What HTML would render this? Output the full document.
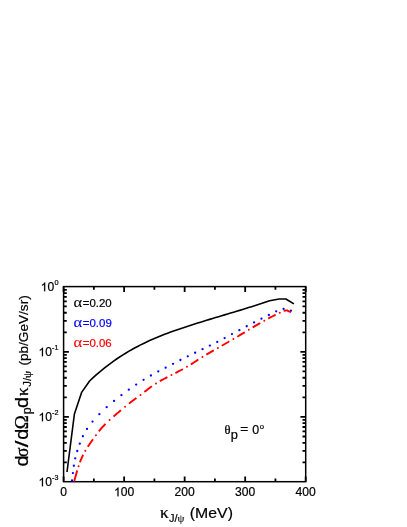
<!DOCTYPE html>
<html><head><meta charset="utf-8"><style>
html,body{margin:0;padding:0;background:#fff;}
svg{display:block;will-change:transform;font-family:"Liberation Sans",sans-serif;font-size:100px;}
</style></head><body>
<svg width="407" height="527" viewBox="0 0 407 527">
<rect width="407" height="527" fill="#fff"/>
<rect x="63.6" y="286.6" width="242.10" height="195.10" fill="none" stroke="#000" stroke-width="1.5"/>
<path d="M63.60 481.7 v-5.3 M63.60 286.6 v5.3 M93.86 481.7 v-3.2 M93.86 286.6 v3.2 M124.12 481.7 v-5.3 M124.12 286.6 v5.3 M154.39 481.7 v-3.2 M154.39 286.6 v3.2 M184.65 481.7 v-5.3 M184.65 286.6 v5.3 M214.91 481.7 v-3.2 M214.91 286.6 v3.2 M245.17 481.7 v-5.3 M245.17 286.6 v5.3 M275.44 481.7 v-3.2 M275.44 286.6 v3.2 M305.70 481.7 v-5.3 M305.70 286.6 v5.3 M63.6 462.37 h3.2 M305.7 462.37 h-3.2 M63.6 450.92 h3.2 M305.7 450.92 h-3.2 M63.6 442.80 h3.2 M305.7 442.80 h-3.2 M63.6 436.49 h3.2 M305.7 436.49 h-3.2 M63.6 431.34 h3.2 M305.7 431.34 h-3.2 M63.6 426.99 h3.2 M305.7 426.99 h-3.2 M63.6 423.22 h3.2 M305.7 423.22 h-3.2 M63.6 419.89 h3.2 M305.7 419.89 h-3.2 M63.6 416.92 h5.3 M305.7 416.92 h-5.3 M63.6 397.34 h3.2 M305.7 397.34 h-3.2 M63.6 385.89 h3.2 M305.7 385.89 h-3.2 M63.6 377.76 h3.2 M305.7 377.76 h-3.2 M63.6 371.46 h3.2 M305.7 371.46 h-3.2 M63.6 366.31 h3.2 M305.7 366.31 h-3.2 M63.6 361.96 h3.2 M305.7 361.96 h-3.2 M63.6 358.19 h3.2 M305.7 358.19 h-3.2 M63.6 354.86 h3.2 M305.7 354.86 h-3.2 M63.6 351.88 h5.3 M305.7 351.88 h-5.3 M63.6 332.31 h3.2 M305.7 332.31 h-3.2 M63.6 320.85 h3.2 M305.7 320.85 h-3.2 M63.6 312.73 h3.2 M305.7 312.73 h-3.2 M63.6 306.43 h3.2 M305.7 306.43 h-3.2 M63.6 301.28 h3.2 M305.7 301.28 h-3.2 M63.6 296.92 h3.2 M305.7 296.92 h-3.2 M63.6 293.15 h3.2 M305.7 293.15 h-3.2 M63.6 289.83 h3.2 M305.7 289.83 h-3.2" stroke="#000" stroke-width="1.8" fill="none"/>
<path d="M67.00 472.00 L74.40 414.00 L81.60 392.40 L89.60 381.00 L92.60 378.18 L95.60 375.46 L98.60 372.84 L101.60 370.32 L104.60 367.88 L107.60 365.54 L110.60 363.29 L113.60 361.12 L116.60 359.03 L119.60 357.01 L122.60 355.08 L125.60 353.22 L128.60 351.42 L131.60 349.70 L134.60 348.04 L137.60 346.44 L140.60 344.90 L143.60 343.41 L146.60 341.98 L149.60 340.60 L152.60 339.27 L155.60 337.98 L158.60 336.73 L161.60 335.52 L164.60 334.35 L167.60 333.21 L170.60 332.11 L173.60 331.03 L176.60 329.97 L179.60 328.94 L182.60 327.92 L185.60 326.93 L188.60 325.95 L191.60 324.98 L194.60 324.02 L197.60 323.07 L200.60 322.14 L203.60 321.21 L206.60 320.29 L209.60 319.38 L212.60 318.47 L215.60 317.57 L218.60 316.67 L221.60 315.77 L224.60 314.88 L227.60 313.98 L230.60 313.08 L233.60 312.18 L236.60 311.28 L239.60 310.37 L242.60 309.46 L245.60 308.54 L248.60 307.61 L251.60 306.68 L254.60 305.73 L257.60 304.78 L260.60 303.81 L263.60 302.82 L266.60 301.83 L269.60 300.81 L279.20 299.00 L285.90 299.00 L293.90 303.90" stroke="#000" stroke-width="1.6" fill="none" stroke-linejoin="round"/>
<g fill="#0000ff"><circle cx="71.99" cy="480.45" r="1.15"/><circle cx="72.91" cy="473.10" r="1.15"/><circle cx="73.86" cy="465.75" r="1.15"/><circle cx="75.21" cy="458.35" r="1.15"/><circle cx="77.27" cy="450.98" r="1.15"/><circle cx="79.77" cy="443.63" r="1.15"/><circle cx="82.87" cy="436.26" r="1.15"/><circle cx="87.00" cy="428.91" r="1.15"/><circle cx="92.50" cy="421.53" r="1.15"/><circle cx="99.34" cy="414.16" r="1.15"/><circle cx="106.68" cy="407.20" r="1.15"/><circle cx="114.07" cy="400.92" r="1.15"/><circle cx="121.45" cy="395.13" r="1.15"/><circle cx="128.80" cy="389.65" r="1.15"/><circle cx="136.17" cy="384.56" r="1.15"/><circle cx="143.53" cy="379.85" r="1.15"/><circle cx="150.91" cy="375.48" r="1.15"/><circle cx="158.27" cy="371.46" r="1.15"/><circle cx="165.64" cy="367.66" r="1.15"/><circle cx="173.04" cy="363.86" r="1.15"/><circle cx="180.41" cy="360.02" r="1.15"/><circle cx="187.76" cy="356.34" r="1.15"/><circle cx="195.14" cy="352.75" r="1.15"/><circle cx="202.53" cy="349.15" r="1.15"/><circle cx="209.86" cy="345.57" r="1.15"/><circle cx="217.26" cy="341.90" r="1.15"/><circle cx="224.63" cy="338.07" r="1.15"/><circle cx="231.98" cy="334.12" r="1.15"/><circle cx="239.38" cy="330.15" r="1.15"/><circle cx="246.72" cy="326.27" r="1.15"/><circle cx="254.10" cy="322.42" r="1.15"/><circle cx="261.46" cy="318.67" r="1.15"/><circle cx="268.85" cy="315.00" r="1.15"/><circle cx="276.19" cy="311.37" r="1.15"/><circle cx="283.60" cy="308.92" r="1.15"/><circle cx="290.95" cy="310.71" r="1.15"/></g>
<path d="M74.10 481.50 L74.24 481.02 L74.37 480.53 L74.51 480.05 L74.65 479.57 L74.78 479.09 L74.92 478.60 L75.06 478.12 L75.19 477.64 L75.33 477.15 L75.47 476.67 L75.60 476.19 L75.74 475.71 L75.88 475.22 L76.01 474.74 L76.15 474.26 L76.29 473.77 L76.43 473.29 L76.57 472.81 L76.71 472.33 L76.85 471.85 L76.99 471.37 L77.14 470.89 L77.27 470.46 M79.93 462.30 L80.10 461.82 L80.26 461.35 L80.45 460.88 L80.65 460.42 L80.85 459.96 L81.05 459.50 L81.24 459.04 L81.44 458.58 L81.64 458.12 L81.84 457.65 L82.04 457.19 L82.24 456.73 L82.43 456.27 L82.64 455.81 L82.87 455.37 L83.10 454.93 L83.17 454.79 M87.78 446.82 L88.04 446.39 L88.31 445.97 L88.59 445.55 L88.88 445.14 L89.16 444.72 L89.45 444.31 L89.74 443.90 L90.02 443.48 L90.31 443.07 L90.60 442.66 L90.89 442.25 L91.17 441.83 L91.46 441.42 L91.75 441.01 L92.04 440.59 L92.33 440.19 L92.63 439.78 L92.93 439.37 L92.99 439.29 M98.88 431.35 L99.19 430.96 L99.51 430.57 L99.82 430.18 L100.14 429.79 L100.45 429.41 L100.77 429.02 L101.08 428.63 L101.40 428.24 L101.74 427.87 L102.08 427.50 L102.42 427.14 L102.76 426.77 L103.11 426.40 L103.45 426.04 L103.79 425.67 L104.13 425.31 L104.48 424.94 L104.82 424.57 L105.16 424.21 L105.51 423.85 M113.48 416.55 L113.86 416.22 L114.24 415.88 L114.61 415.55 L114.99 415.22 L115.38 414.90 L115.76 414.57 L116.14 414.25 L116.53 413.92 L116.91 413.60 L117.29 413.27 L117.68 412.95 L118.06 412.62 L118.45 412.30 L118.83 411.97 L119.21 411.65 L119.60 411.32 L119.98 411.00 L120.36 410.67 L120.75 410.35 L120.98 410.16 M128.94 403.61 L129.33 403.29 L129.73 402.98 L130.12 402.66 L130.52 402.36 L130.92 402.05 L131.32 401.75 L131.73 401.45 L132.13 401.15 L132.53 400.85 L132.93 400.54 L133.34 400.24 L133.74 399.94 L134.14 399.64 L134.55 399.34 L134.95 399.04 L135.35 398.73 L135.75 398.43 L136.16 398.13 L136.44 397.93 M144.41 391.91 L144.80 391.60 L145.20 391.29 L145.60 390.99 L146.00 390.68 L146.40 390.38 L146.80 390.07 L147.20 389.77 L147.59 389.46 L147.99 389.16 L148.39 388.86 L148.79 388.55 L149.19 388.25 L149.59 387.94 L149.99 387.64 L150.39 387.33 L150.78 387.03 L151.19 386.74 L151.61 386.45 L151.94 386.23 M159.89 381.18 L160.32 380.93 L160.76 380.68 L161.19 380.43 L161.63 380.18 L162.07 379.94 L162.51 379.71 L162.95 379.47 L163.39 379.24 L163.84 379.00 L164.28 378.77 L164.72 378.53 L165.16 378.30 L165.61 378.06 L166.05 377.82 L166.49 377.59 L166.93 377.35 L167.38 377.12 M175.38 373.03 L175.83 372.80 L176.27 372.57 L176.72 372.34 L177.17 372.11 L177.62 371.88 L178.06 371.65 L178.51 371.41 L178.95 371.18 L179.40 370.95 L179.85 370.72 L180.29 370.48 L180.74 370.25 L181.18 370.02 L181.63 369.78 L182.08 369.55 L182.52 369.31 L182.87 369.12 M190.85 364.45 L191.27 364.19 L191.70 363.93 L192.12 363.66 L192.54 363.38 L192.96 363.11 L193.37 362.83 L193.79 362.55 L194.21 362.28 L194.63 362.00 L195.04 361.72 L195.46 361.45 L195.88 361.17 L196.29 360.89 L196.71 360.62 L197.13 360.34 L197.55 360.07 L197.98 359.80 L198.36 359.55 M206.32 354.62 L206.75 354.36 L207.18 354.11 L207.62 353.86 L208.05 353.61 L208.49 353.36 L208.92 353.11 L209.36 352.86 L209.79 352.61 L210.23 352.36 L210.66 352.11 L211.10 351.86 L211.53 351.61 L211.97 351.36 L212.40 351.11 L212.84 350.86 L213.28 350.61 L213.71 350.36 L213.80 350.31 M221.76 345.78 L222.20 345.53 L222.64 345.28 L223.07 345.03 L223.50 344.77 L223.93 344.52 L224.36 344.26 L224.79 344.01 L225.23 343.76 L225.66 343.50 L226.09 343.25 L226.52 342.99 L226.95 342.74 L227.38 342.49 L227.81 342.23 L228.25 341.98 L228.68 341.72 L229.11 341.46 L229.29 341.36 M237.24 336.71 L237.68 336.46 L238.11 336.21 L238.55 335.95 L238.98 335.70 L239.42 335.44 L239.85 335.19 L240.29 334.93 L240.72 334.68 L241.15 334.42 L241.59 334.17 L242.02 333.92 L242.46 333.66 L242.89 333.41 L243.33 333.15 L243.76 332.89 L244.18 332.63 L244.61 332.37 L244.74 332.29 M252.72 327.44 L253.15 327.18 L253.58 326.92 L254.01 326.66 L254.45 326.41 L254.88 326.16 L255.32 325.91 L255.75 325.66 L256.18 325.41 L256.62 325.16 L257.05 324.91 L257.49 324.66 L257.92 324.41 L258.36 324.16 L258.79 323.91 L259.23 323.66 L259.66 323.41 L260.10 323.17 L260.23 323.09 M268.20 318.60 L268.64 318.35 L269.07 318.11 L269.52 317.88 L269.96 317.65 L270.41 317.41 L270.85 317.18 L271.30 316.95 L271.74 316.72 L272.19 316.49 L272.63 316.26 L273.07 316.03 L273.52 315.80 L273.96 315.57 L274.41 315.34 L274.86 315.13 L275.32 314.91 L275.68 314.74 M283.65 310.87 L284.14 310.79 L284.63 310.70 L285.13 310.61 L285.62 310.53 L286.11 310.44 L286.60 310.35 L287.08 310.39 L287.53 310.61 L287.98 310.84 L288.43 311.06 L288.88 311.29 L289.33 311.51 L289.78 311.74 L290.23 311.96 L290.68 312.19 L290.90 312.30" stroke="#ff0000" stroke-width="1.9" fill="none"/>
<g fill="#ff0000"><circle cx="78.56" cy="466.19" r="1.0"/><circle cx="85.32" cy="450.72" r="1.0"/><circle cx="95.95" cy="435.23" r="1.0"/><circle cx="109.59" cy="419.97" r="1.0"/><circle cx="125.06" cy="406.73" r="1.0"/><circle cx="140.51" cy="394.91" r="1.0"/><circle cx="156.01" cy="383.45" r="1.0"/><circle cx="171.47" cy="375.02" r="1.0"/><circle cx="186.92" cy="366.86" r="1.0"/><circle cx="202.42" cy="356.96" r="1.0"/><circle cx="217.87" cy="348.01" r="1.0"/><circle cx="233.37" cy="338.95" r="1.0"/><circle cx="248.80" cy="329.81" r="1.0"/><circle cx="264.29" cy="320.78" r="1.0"/><circle cx="279.76" cy="312.79" r="1.0"/></g>
<g fill="#000">
<g transform="translate(60.22 496.25) scale(0.1215 0.1220)" stroke="#000" stroke-width="1.64"><text x="0.00">0</text></g>
<g transform="translate(113.99 496.25) scale(0.1215 0.1220)" stroke="#000" stroke-width="1.64"><path d="M763 0H583V1147Q518 1085 412.5 1023T223 930V1104Q373 1174.5 485 1275T644 1470H763Z" transform="translate(0.00 0) scale(0.048828 -0.048828)" stroke-width="33.6"/><text x="55.62">00</text></g>
<g transform="translate(174.51 496.25) scale(0.1215 0.1220)" stroke="#000" stroke-width="1.64"><text x="0.00">200</text></g>
<g transform="translate(235.04 496.25) scale(0.1215 0.1220)" stroke="#000" stroke-width="1.64"><text x="0.00">300</text></g>
<g transform="translate(295.56 496.25) scale(0.1215 0.1220)" stroke="#000" stroke-width="1.64"><text x="0.00">400</text></g>
<g transform="translate(40.68 291.23) scale(0.1210 0.1202)" stroke="#000" stroke-width="1.66"><path d="M763 0H583V1147Q518 1085 412.5 1023T223 930V1104Q373 1174.5 485 1275T644 1470H763Z" transform="translate(0.00 0) scale(0.048828 -0.048828)" stroke-width="34.0"/><text x="55.62">0</text></g>
<g transform="translate(54.38 284.73) scale(0.0735 0.0718)" stroke="#000" stroke-width="2.75"><text x="0.00">0</text></g>
<g transform="translate(38.48 356.26) scale(0.1210 0.1202)" stroke="#000" stroke-width="1.66"><path d="M763 0H583V1147Q518 1085 412.5 1023T223 930V1104Q373 1174.5 485 1275T644 1470H763Z" transform="translate(0.00 0) scale(0.048828 -0.048828)" stroke-width="34.0"/><text x="55.62">0</text></g>
<g transform="translate(52.11 349.83) scale(0.0722 0.0739)" stroke="#000" stroke-width="2.74"><text x="0.00">-1</text></g>
<g transform="translate(38.48 421.30) scale(0.1210 0.1202)" stroke="#000" stroke-width="1.66"><path d="M763 0H583V1147Q518 1085 412.5 1023T223 930V1104Q373 1174.5 485 1275T644 1470H763Z" transform="translate(0.00 0) scale(0.048828 -0.048828)" stroke-width="34.0"/><text x="55.62">0</text></g>
<g transform="translate(52.11 414.87) scale(0.0722 0.0729)" stroke="#000" stroke-width="2.76"><text x="0.00">-2</text></g>
<g transform="translate(38.48 486.33) scale(0.1210 0.1202)" stroke="#000" stroke-width="1.66"><path d="M763 0H583V1147Q518 1085 412.5 1023T223 930V1104Q373 1174.5 485 1275T644 1470H763Z" transform="translate(0.00 0) scale(0.048828 -0.048828)" stroke-width="34.0"/><text x="55.62">0</text></g>
<g transform="translate(52.11 479.83) scale(0.0713 0.0718)" stroke="#000" stroke-width="2.79"><text x="0.00">-3</text></g>
<g transform="translate(73.61 307.45) scale(0.1646 0.1500)" stroke="#000" stroke-width="0.76"><text x="0.00" font-family="Liberation Serif">α</text></g>
<g transform="translate(82.74 307.28) scale(0.1145 0.1155)" stroke="#000" stroke-width="1.74"><text x="0.00">=0.20</text></g>
<g transform="translate(73.61 327.40) scale(0.1646 0.1500)" fill="#0000ff" stroke="#0000ff" stroke-width="0.76"><text x="0.00" font-family="Liberation Serif">α</text></g>
<g transform="translate(82.74 327.23) scale(0.1150 0.1155)" fill="#0000ff" stroke="#0000ff" stroke-width="1.74"><text x="0.00">=0.09</text></g>
<g transform="translate(73.61 347.35) scale(0.1646 0.1500)" fill="#ff0000" stroke="#ff0000" stroke-width="0.76"><text x="0.00" font-family="Liberation Serif">α</text></g>
<g transform="translate(82.74 347.18) scale(0.1145 0.1155)" fill="#ff0000" stroke="#ff0000" stroke-width="1.74"><text x="0.00">=0.06</text></g>
<g transform="translate(224.40 433.78) scale(0.1250 0.1155)" stroke="#000" stroke-width="2.08"><text x="0.00" font-family="Liberation Serif">θ</text></g>
<g transform="translate(230.73 439.41) scale(0.1283 0.1187)" stroke="#000" stroke-width="1.62"><text x="0.00">p</text></g>
<g transform="translate(240.36 433.35) scale(0.1360 0.1091)" stroke="#000" stroke-width="2.45"><text x="0.00">=</text></g>
<g transform="translate(252.23 433.78) scale(0.1245 0.1197)" stroke="#000" stroke-width="1.64"><text x="0.00">0</text></g>
<g transform="translate(259.79 428.63) scale(0.0771 0.0691)" stroke="#000" stroke-width="2.74"><text x="0.00">o</text></g>
<g transform="translate(159.93 517.70) scale(0.1735 0.1630)" stroke="#000" stroke-width="1.49"><text x="0.00" font-family="Liberation Serif">κ</text></g>
<g transform="translate(169.09 521.81) scale(0.1095 0.1043)" stroke="#000" stroke-width="1.87"><text x="0.00">J/</text><text x="77.78" font-family="Liberation Serif" stroke-width="1.12">ψ</text></g>
<g transform="translate(189.85 518.26) scale(0.1583 0.1543)" stroke="#000" stroke-width="1.28"><text x="0.00">(MeV)</text></g>
<g transform="translate(28.40 466.60) rotate(-90) scale(0.1980 0.1920)" stroke="#000" stroke-width="1.44"><text x="0.00">d</text></g>
<g transform="translate(28.40 457.10) rotate(-90) scale(0.1750 0.1940)" stroke="#000" stroke-width="1.63"><text x="0.00" font-family="Liberation Serif">σ</text></g>
<g transform="translate(28.40 447.26) rotate(-90) scale(0.2400 0.1920)" stroke="#000" stroke-width="1.30"><text x="0.00">/</text></g>
<g transform="translate(28.40 439.65) rotate(-90) scale(0.1980 0.1920)" stroke="#000" stroke-width="1.44"><text x="0.00">d</text></g>
<g transform="translate(28.40 429.23) rotate(-90) scale(0.1900 0.1880)" stroke="#000" stroke-width="1.59"><text x="0.00" font-family="Liberation Serif">Ω</text></g>
<g transform="translate(30.81 414.33) rotate(-90) scale(0.1217 0.1187)" stroke="#000" stroke-width="2.08"><text x="0.00">p</text></g>
<g transform="translate(28.40 407.95) rotate(-90) scale(0.1980 0.1920)" stroke="#000" stroke-width="1.44"><text x="0.00">d</text></g>
<g transform="translate(28.00 395.94) rotate(-90) scale(0.1700 0.1740)" stroke="#000" stroke-width="1.74"><text x="0.00" font-family="Liberation Serif">κ</text></g>
<g transform="translate(31.48 386.71) rotate(-90) scale(0.1124 0.1011)" stroke="#000" stroke-width="1.87"><text x="0.00">J/</text><text x="77.78" font-family="Liberation Serif" stroke-width="2.34">ψ</text></g>
<g transform="translate(28.39 365.62) rotate(-90) scale(0.1361 0.1340)" stroke="#000" stroke-width="1.48"><text x="0.00">(pb/GeV/sr)</text></g>
</g>
</svg>
</body></html>
